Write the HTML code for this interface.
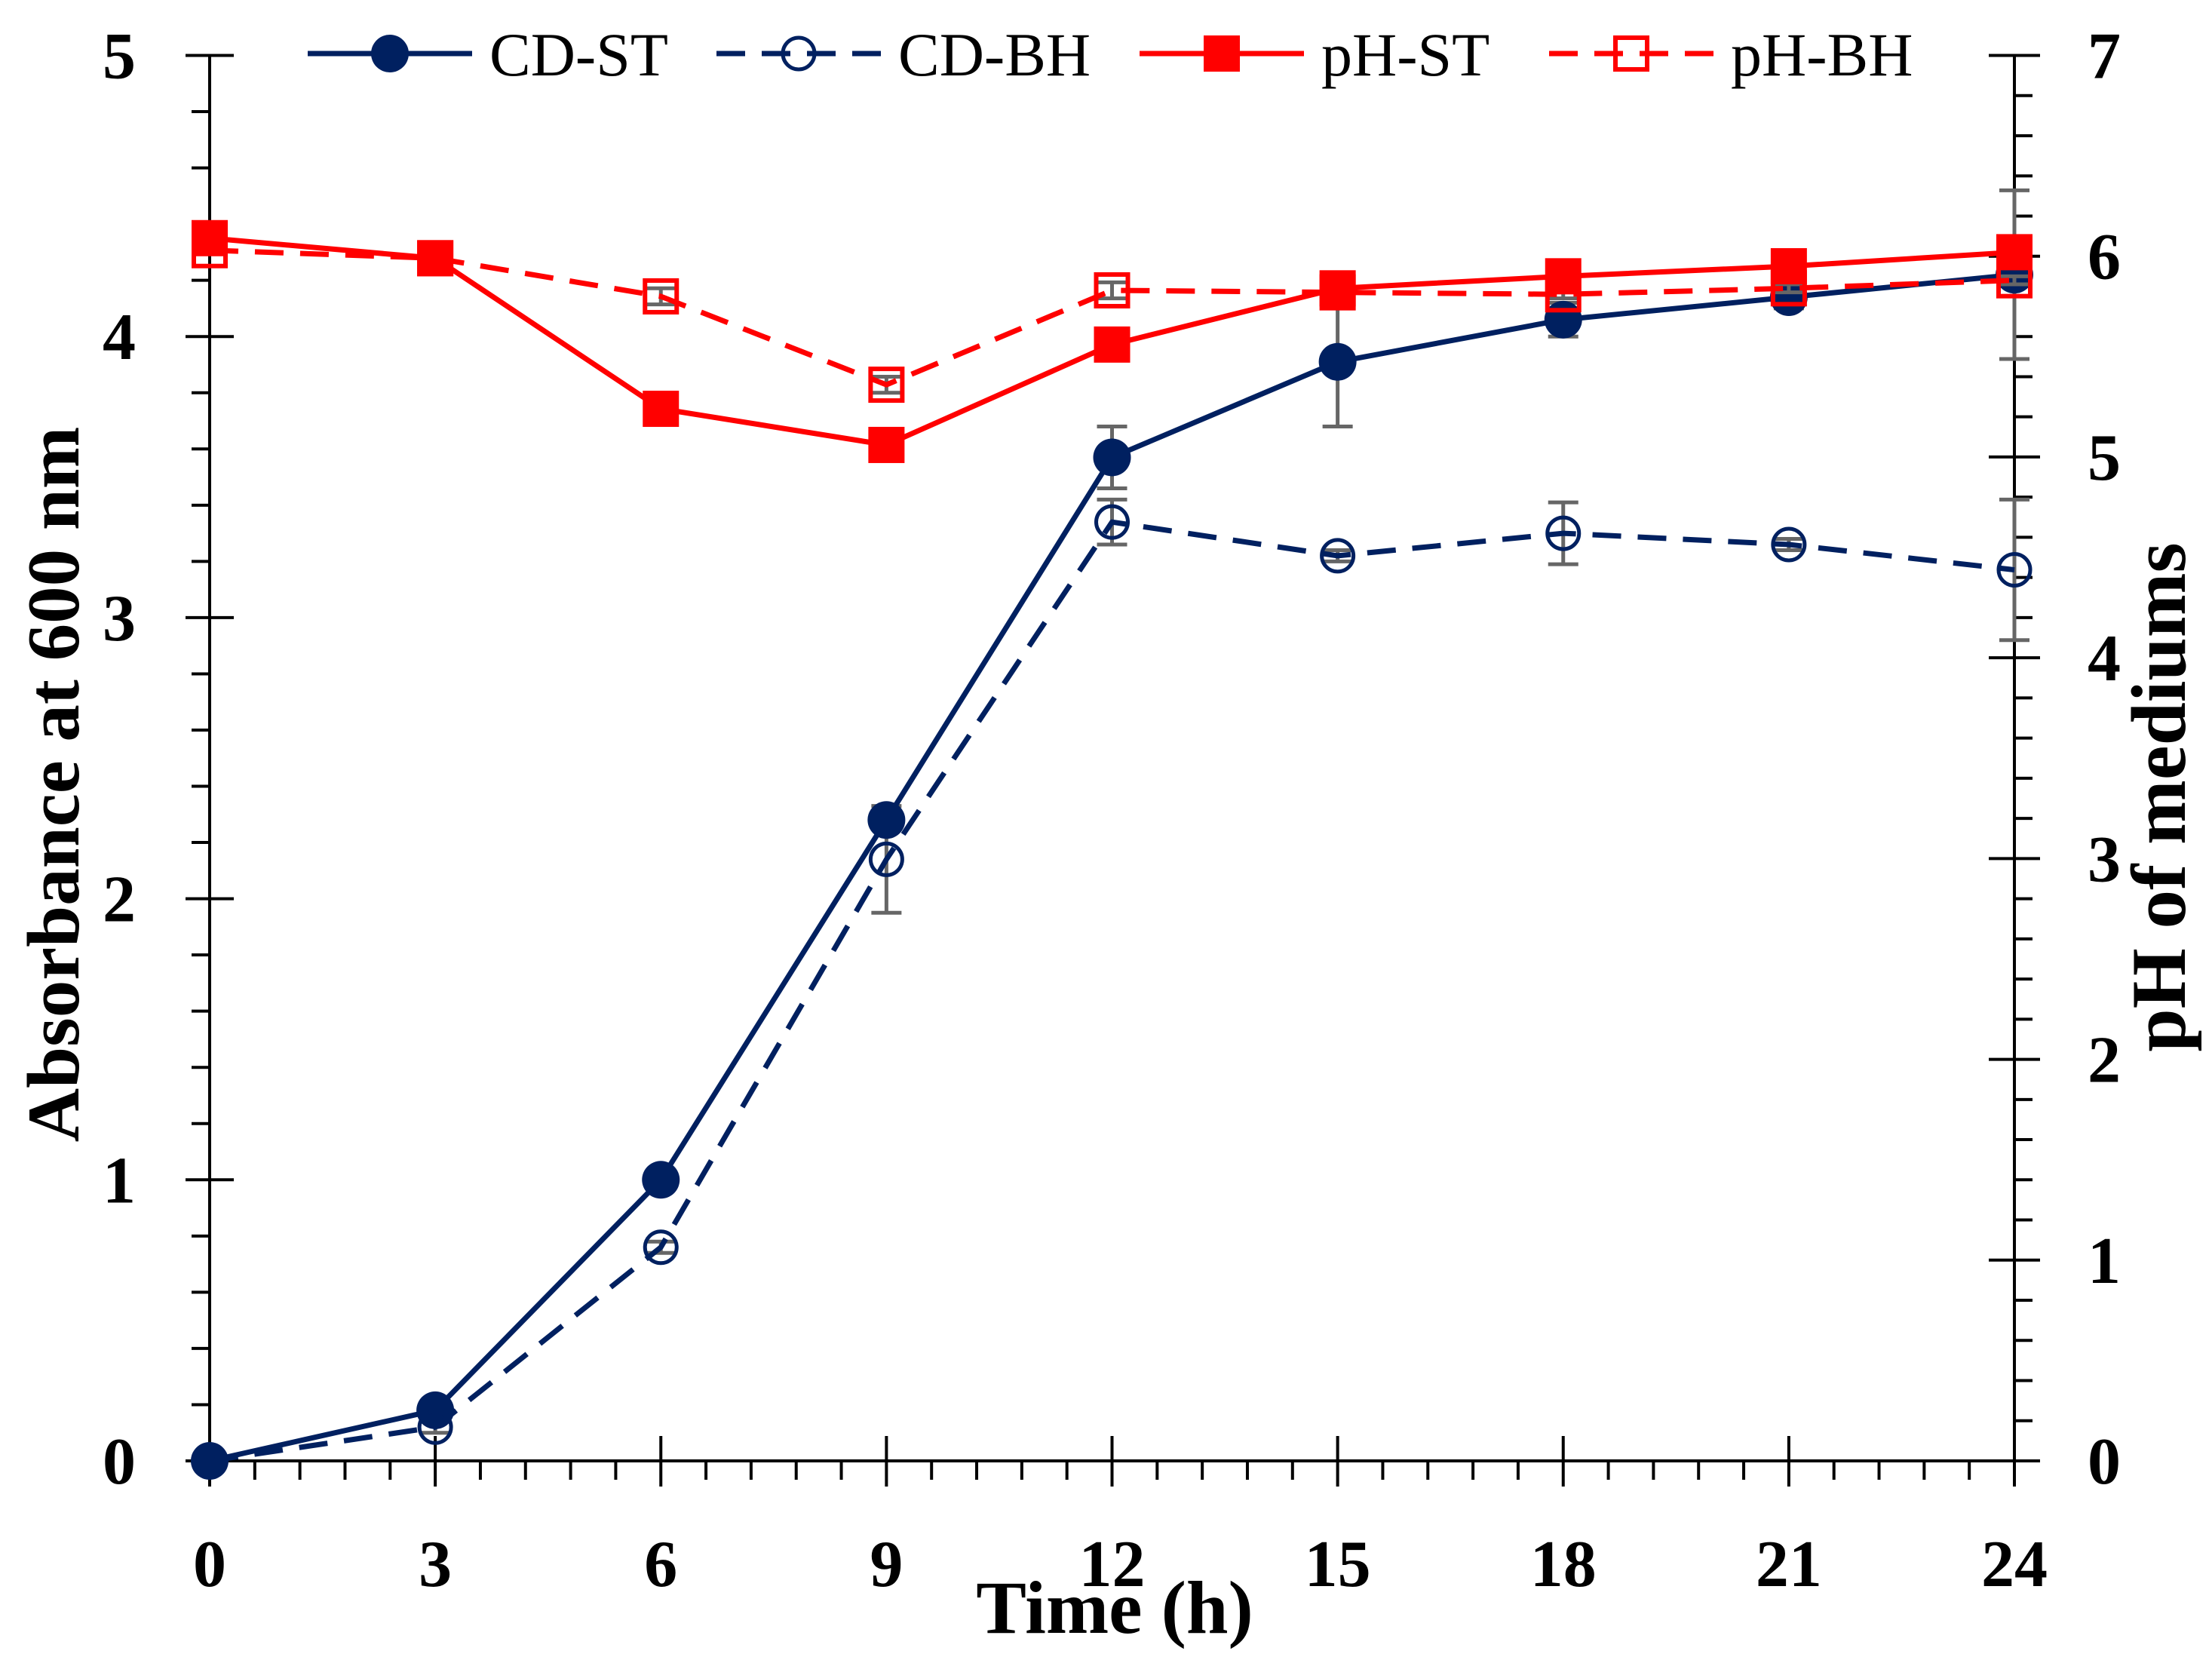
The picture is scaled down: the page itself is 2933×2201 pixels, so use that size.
<!DOCTYPE html>
<html><head><meta charset="utf-8">
<style>
html,body{margin:0;padding:0;background:#fff;}
svg{display:block;}
text{font-family:"Liberation Serif",serif;}
</style></head>
<body>
<svg id="chart" width="2933" height="2201" viewBox="0 0 2933 2201" xmlns="http://www.w3.org/2000/svg">
<g id="axes"></g>
<g id="series"></g>
<g id="legend"></g>
<text x="0" y="0" transform="translate(104,1040) rotate(-90)" text-anchor="middle" font-size="99" font-weight="bold">Absorbance at 600 nm</text>
<text x="0" y="0" transform="translate(2897,1057) rotate(-90)" text-anchor="middle" font-size="103" font-weight="bold">pH of mediums</text>
<text x="1478" y="2165" text-anchor="middle" font-size="100" font-weight="bold">Time (h)</text>
</svg>
<script>
const times = [0,3,6,9,12,15,18,21,24];
const cdST = [0,0.18,1.0,2.28,3.57,3.91,4.06,4.14,4.22];
const cdSTerr = [0,0.02,0.02,0.03,0.11,0.23,0.06,0.04,0.3];
const cdBH = [0,0.12,0.76,2.14,3.34,3.22,3.30,3.26,3.17];
const cdBHerr = [0,0.02,0.02,0.19,0.08,0.02,0.11,0.02,0.25];
const phST = [6.09,5.99,5.24,5.06,5.56,5.84,5.90,5.95,6.02];
const phSTerr = [0.02,0.02,0.02,0.02,0.02,0.02,0.02,0.02,0.02];
const phBH = [6.03,5.99,5.80,5.36,5.83,5.82,5.81,5.84,5.88];
const phBHerr = [0.02,0.02,0.04,0.04,0.04,0.02,0.02,0.02,0.02];
const xTicks = [0,3,6,9,12,15,18,21,24];
const yTicks = [0,1,2,3,4,5];
const y2Ticks = [0,1,2,3,4,5,6,7];

const NS="http://www.w3.org/2000/svg";
const X0=278,X1=2671,YB=1937,YT=73.5;
const xs=t=>X0+(X1-X0)*t/24;
const ys=v=>YB-(YB-YT)*v/5;
const y2s=v=>YB-(YB-YT)*v/7;
function el(tag,attrs,parent){const e=document.createElementNS(NS,tag);for(const k in attrs)e.setAttribute(k,attrs[k]);parent.appendChild(e);return e;}
const ax=document.getElementById('axes');
const se=document.getElementById('series');
const lg=document.getElementById('legend');
let a=el('line',{x1:X0,y1:YT,x2:X0,y2:YB,stroke:'#000','stroke-width':4},ax);

a=el('line',{x1:X1,y1:YT,x2:X1,y2:YB,stroke:'#000','stroke-width':4},ax);

a=el('line',{x1:X0-30,y1:YB,x2:X1+32,y2:YB,stroke:'#000','stroke-width':4},ax);

for(let i=0;i<=25;i++){const v=i*0.2,y=ys(v);const maj=i%5===0;
 el('line',{x1:maj?X0-32:X0-24,y1:y,x2:maj?X0+32:X0,y2:y,stroke:'#000','stroke-width':4},ax);}
yTicks.forEach(v=>{const t=el('text',{x:180,y:ys(v)+30,'text-anchor':'end','font-size':88,'font-weight':'bold'},ax);t.textContent=v;
 });
for(let i=0;i<=35;i++){const v=i*0.2,y=y2s(v);const maj=i%5===0;
 el('line',{x1:maj?X1-34:X1,y1:y,x2:maj?X1+34:X1+24,y2:y,stroke:'#000','stroke-width':4},ax);}
y2Ticks.forEach(v=>{const t=el('text',{x:2790,y:y2s(v)+30,'text-anchor':'middle','font-size':88,'font-weight':'bold'},ax);t.textContent=v;
 });
for(let i=0;i<=40;i++){const t=i*0.6,x=xs(t);const maj=i%5===0;
 el('line',{x1:x,y1:maj?YB-33:YB,x2:x,y2:maj?YB+34:YB+25,stroke:'#000','stroke-width':4},ax);}
xTicks.forEach(v=>{const t=el('text',{x:xs(v),y:2103,'text-anchor':'middle','font-size':88,'font-weight':'bold'},ax);t.textContent=v;
 });

function errbars(vals,errs,sc,name){const g=el('g',{},se);
 
 vals.forEach((v,i)=>{const x=xs(times[i]),y1=sc(v-errs[i]),y2=sc(v+errs[i]);
  el('line',{x1:x,y1:y1,x2:x,y2:y2,stroke:'#666','stroke-width':5},g);
  el('line',{x1:x-20,y1:y1,x2:x+20,y2:y1,stroke:'#666','stroke-width':5},g);
  el('line',{x1:x-20,y1:y2,x2:x+20,y2:y2,stroke:'#666','stroke-width':5},g);});}
function series(vals,sc,color,dash,marker,name){const g=el('g',{},se);
 
 const pts=vals.map((v,i)=>xs(times[i])+','+sc(v)).join(' ');
 const attrs={points:pts,fill:'none',stroke:color,'stroke-width':7,'stroke-linejoin':'round'};
 if(dash)attrs['stroke-dasharray']='38 22';
 el('polyline',attrs,g);
 vals.forEach((v,i)=>drawMarker(g,marker,xs(times[i]),sc(v),color));}
function drawMarker(g,m,x,y,c){
 if(m==='fc')el('circle',{cx:x,cy:y,r:25,fill:c},g);
 if(m==='oc')el('circle',{cx:x,cy:y,r:21,fill:'none',stroke:c,'stroke-width':5},g);
 if(m==='fs')el('rect',{x:x-24,y:y-24,width:48,height:48,fill:c},g);
 if(m==='os')el('rect',{x:x-21,y:y-21,width:42,height:42,fill:'none',stroke:c,'stroke-width':6},g);}
errbars(cdST,cdSTerr,ys,'cd-st-error-bars');
errbars(cdBH,cdBHerr,ys,'cd-bh-error-bars');
series(cdST,ys,'#002060',false,'fc','series-cd-st');
series(cdBH,ys,'#002060',true,'oc','series-cd-bh');
errbars(phST,phSTerr,y2s,'ph-st-error-bars');
errbars(phBH,phBHerr,y2s,'ph-bh-error-bars');
series(phBH,y2s,'#ff0000',true,'os','series-ph-bh');
series(phST,y2s,'#ff0000',false,'fs','series-ph-st');

const legendNames=['CD-ST','CD-BH','pH-ST','pH-BH'];
const legendX=[408,950,1511,2054];
const legendColors=['#002060','#002060','#ff0000','#ff0000'];
const legendMarkers=['fc','oc','fs','os'];
const legendDash=[false,true,false,true];
legendNames.forEach((n,i)=>{const g=el('g',{},lg);
 
 
 const x=legendX[i],y=71;
 const la={x1:x,y1:y,x2:x+218,y2:y,stroke:legendColors[i],'stroke-width':7};
 if(legendDash[i])la['stroke-dasharray']='38 22';
 el('line',la,g);
 drawMarker(g,legendMarkers[i],x+109,y,legendColors[i]);
 const t=el('text',{x:x+241,y:y+29,'font-size':82},g);t.textContent=n;});
</script>
</body></html>
